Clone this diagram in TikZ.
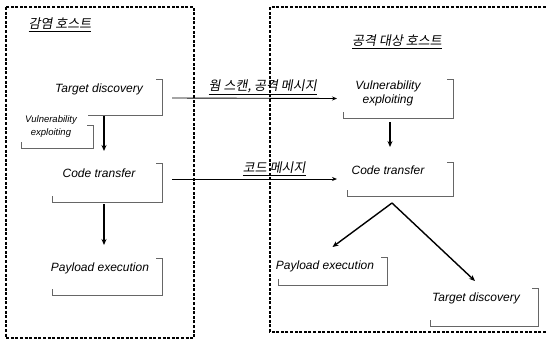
\documentclass[tikz,border=0pt]{standalone}
\usepackage{fontspec}
\setmainfont{Liberation Sans}
\newfontfamily\krfont[FakeSlant=0.18]{Noto Sans CJK KR}
\usetikzlibrary{arrows.meta,calc}

\tikzset{
  hostbox/.style={draw=black, line width=1.1pt, dash pattern=on 3pt off 1.6pt},
  frame/.style={inner sep=0pt, outer sep=0pt, anchor=north west},
  bracket/.style={draw=black!60, line width=0.6pt},
  label/.style={font=\itshape\fontsize{12}{13.5}\selectfont, inner sep=0pt, align=center},
  smalllabel/.style={font=\itshape\fontsize{9.5}{13}\selectfont, inner sep=0pt, align=center},
  krlabel/.style={font=\krfont\fontsize{13}{14}\selectfont, inner sep=0pt},
  flow/.style={draw=black, line width=1.4pt, -{Stealth[length=6pt,width=5pt]}},
  msg/.style={draw=black, line width=0.9pt, -{Stealth[length=5pt,width=4pt]}},
}

% open outline of a step frame: corner tick, right side, bottom, left tick
\newcommand{\bracketof}[1]{%
  \draw[bracket] ($(#1.north east)+(-6,0)$) -- (#1.north east) -- (#1.south east) -- (#1.south west) -- ($(#1.south west)+(0,-6)$);
}

\begin{document}
\begin{tikzpicture}[x=1pt, y=-1pt]
\useasboundingbox (0,0) rectangle (546,346);

% host areas
\draw[hostbox] (6,7) rectangle (194,338);
\draw[hostbox] (546,332) -- (270,332) -- (270,7) -- (546,7);

% host titles
\node[krlabel] (infhost) at (60,25) {\underline{감염 호스트}};
\node[krlabel] (tgthost) at (397,42) {\underline{공격 대상 호스트}};

% frames of the infected host
\node[frame, minimum width=74pt, minimum height=36pt] (ltd) at (88,79) {};
\node[frame, minimum width=72pt, minimum height=23pt] (lve) at (21,125) {};
\node[frame, minimum width=110pt, minimum height=39pt] (lct) at (52,163) {};
\node[frame, minimum width=110pt, minimum height=37pt] (lpe) at (52,258) {};

% frames of the target host
\node[frame, minimum width=110pt, minimum height=39pt] (rve) at (343,79) {};
\node[frame, minimum width=106pt, minimum height=34pt] (rct) at (347,162) {};
\node[frame, minimum width=109pt, minimum height=28pt] (rpe) at (278,257) {};
\node[frame, minimum width=108pt, minimum height=38pt] (rtd) at (430,288) {};

% bracket outlines
\draw[bracket] ($(ltd.north east)+(-6,0)$) -- (ltd.north east) -- (ltd.south east) -- (ltd.south west);
\bracketof{lve}
\bracketof{lct}
\bracketof{lpe}
\bracketof{rve}
\bracketof{rct}
\bracketof{rpe}
\bracketof{rtd}

% step texts
\node[label] (ltdtext) at (99,89) {Target discovery};
\node[smalllabel] (lvetext) at (51,127) {Vulnerability\\exploiting};
\node[label] (lcttext) at (99,173) {Code transfer};
\node[label] (lpetext) at (100,268) {Payload execution};

\node[label] (rvetext) at (388,93.5) {Vulnerability\\exploiting};
\node[label] (rcttext) at (388,170) {Code transfer};
\node[label] (rpetext) at (325,266) {Payload execution};
\node[label] (rtdtext) at (476,298) {Target discovery};

% flow inside the infected host
\draw[flow] ($(ltd.south)+(-21,1)$) -- ($(ltd.south)+(-21,36)$);
\draw[flow] ($(lct.south)+(-3,2)$) -- ($(lpe.north)+(-3,-13)$);

% flow inside the target host
\draw[flow] ($(rve.south)+(-8,4)$) -- ($(rve.south)+(-8,29)$);
\coordinate (split) at ($(rct.south)+(-8,7)$);
\draw[flow] (split) -- ($(rpe.north)+(0,-10)$);
\draw[flow] (split) -- ($(rtd.north west)+(45,-7)$);

% messages between the hosts
\draw[msg] ($(ltd.east)+(10,1)$) -- ($(rve.west)+(-6,0)$)
  node[krlabel, pos=0.55, above=3pt] (scanmsg) {\underline{웜 스캔, 공격 메시지}};
\draw[msg] ($(lct.east |- rct.west)+(10,0)$) -- ($(rct.west)+(-10,0)$)
  node[krlabel, pos=0.62, above=3pt] (codemsg) {\underline{코드 메시지}};
\end{tikzpicture}
\end{document}
